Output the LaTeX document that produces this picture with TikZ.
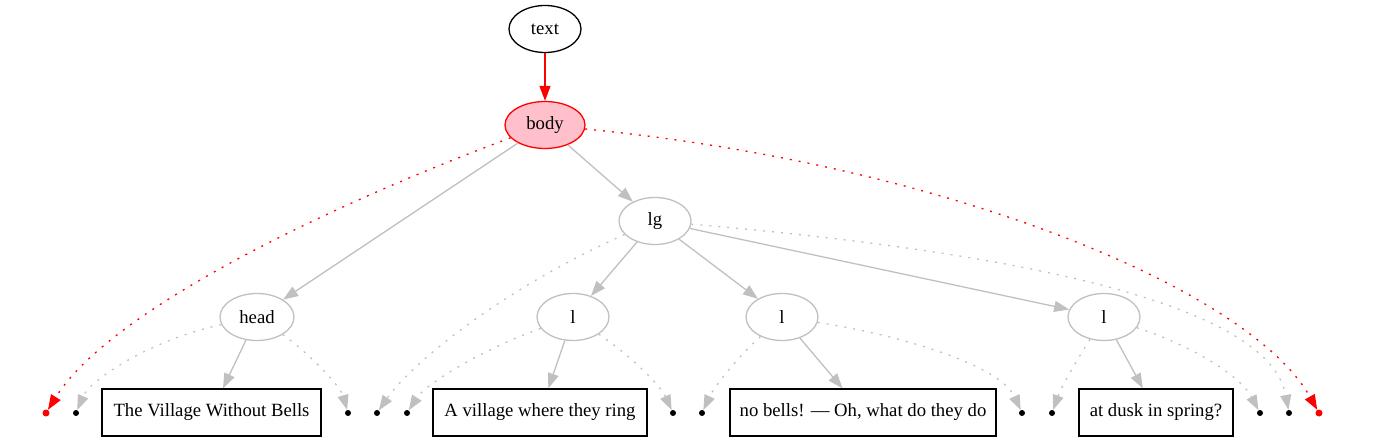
\documentclass[tikz,border=0pt]{standalone}
\usepackage{fontspec}
\setmainfont{Liberation Serif}
\usepackage{tikz}
\usetikzlibrary{arrows.meta,shapes.geometric}
\definecolor{grayx}{HTML}{C0C0C0}
\definecolor{redx}{HTML}{FF0000}
\definecolor{pinkx}{HTML}{FFC0CB}
\tikzset{
  el/.style={ellipse,draw=grayx,line width=1.3pt,minimum width=72pt,minimum height=47pt,inner sep=0pt},
  tbox/.style={draw=black,line width=1.3pt,minimum height=47pt,inner sep=0pt},
  pt/.style={circle,fill=black,minimum size=6pt,inner sep=0pt},
  ar/.style={-{Triangle[length=15pt,width=11pt]},line width=1.3pt,grayx},
  rar/.style={ar,color=redx},
  dt/.style={ar,dash pattern=on 2pt off 7pt},
  rdt/.style={dt,color=redx}
}

\begin{document}
\begin{tikzpicture}[x=1pt,y=-1pt,every node/.style={font=\fontsize{18.7}{22}\selectfont}]
\useasboundingbox (0,0) rectangle (1376,443);
\node[el,draw=black] (text) at (545,29) {text};
\node[el,draw=redx,fill=pinkx,minimum width=80pt] (body) at (545,125) {body};
\node[el] (lg) at (655,221) {lg};
\node[el,minimum width=74pt] (head) at (257,317) {head};
\node[el] (l1) at (573,317) {l};
\node[el] (l2) at (782,317) {l};
\node[el] (l3) at (1104,317) {l};
\node[tbox,minimum width=219pt] (t1) at (211.5,412.5) {The Village Without Bells};
\node[tbox,minimum width=214pt] (t2) at (540,412.5) {A village where they ring};
\node[tbox,minimum width=266pt] (t3) at (863,412.5) {no bells! — Oh, what do they do};
\node[tbox,minimum width=154pt] (t4) at (1156,412.5) {at dusk in spring?};
\foreach \n/\x in {p1/76,p2/348,p3/377,p4/407,p5/673,p6/702,p7/1022,p8/1052,p9/1260,p10/1289}
  \node[pt] (\n) at (\x,413) {};
\node[pt,fill=redx,minimum size=7pt] (r1) at (46,413) {};
\node[pt,fill=redx,minimum size=7pt] (r2) at (1319,413) {};
\draw[rar] (text) -- (body);
\draw[ar] (body) -- (head);
\draw[ar] (body) -- (lg);
\foreach \a in {l1,l2,l3} \draw[ar] (lg) -- (\a);
\draw[ar] (head) -- (t1);
\draw[ar] (l1) -- (t2);
\draw[ar] (l2) -- (t3);
\draw[ar] (l3) -- (t4);
\draw[rdt] (body) .. controls (330,205) and (110,310) .. (r1);
\draw[rdt] (body) .. controls (950,165) and (1250,290) .. (r2);
\draw[dt] (lg) .. controls (500,290) and (410,365) .. (p3);
\draw[dt] (lg) .. controls (1050,255) and (1270,310) .. (p10);
\draw[dt] (head) .. controls (150,340) and (90,380) .. (p1);
\draw[dt] (head) .. controls (305,350) and (340,385) .. (p2);
\draw[dt] (l1) .. controls (480,350) and (425,385) .. (p4);
\draw[dt] (l1) .. controls (630,355) and (660,385) .. (p5);
\draw[dt] (l2) .. controls (740,355) and (715,385) .. (p6);
\draw[dt] (l2) .. controls (900,335) and (1000,365) .. (p7);
\draw[dt] (l3) .. controls (1080,355) and (1062,385) .. (p8);
\draw[dt] (l3) .. controls (1190,345) and (1240,375) .. (p9);
\end{tikzpicture}
\end{document}
